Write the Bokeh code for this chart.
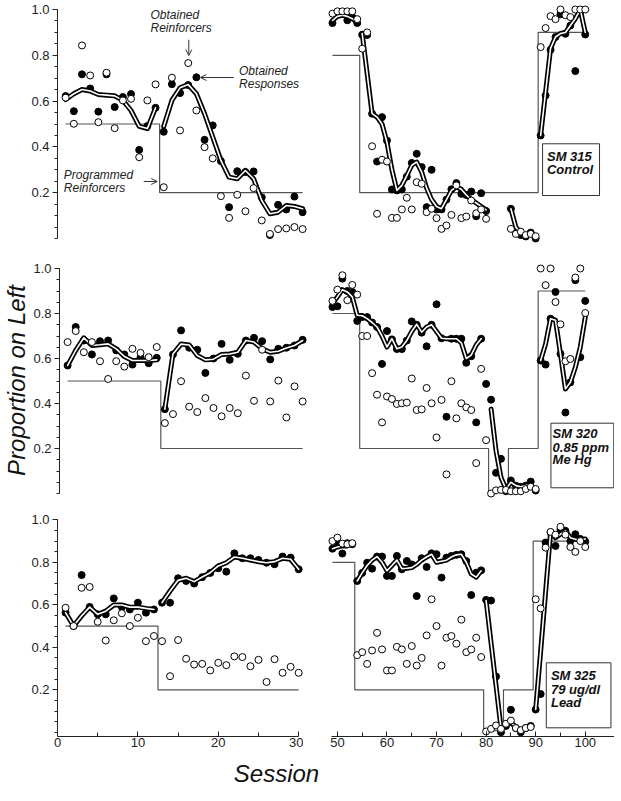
import math
from bokeh.plotting import figure
from bokeh.layouts import column, row
from bokeh.models import (FixedTicker, PrintfTickFormatter, Label, BoxAnnotation,
                          Arrow, OpenHead, Range1d, LinearAxis)
from bokeh.embed import file_html
from bokeh.resources import INLINE

FONT = "Liberation Sans"

# ---------------- data ----------------
# Top row: SM 315 Control
tl_sessions = list(range(1, 31))
tl_resp = [0.622, 0.556, 0.717, 0.655, 0.554, 0.717, 0.574, 0.618, 0.631, 0.387,
           0.491, 0.571, 0.466, 0.674, 0.635, 0.670, 0.704, 0.431, 0.494, 0.338,
           0.137, 0.294, 0.290, 0.293, 0.180, 0.015, 0.147, 0.127, 0.183, 0.115]
tl_reinf = [0.615, 0.501, 0.843, 0.712, 0.508, 0.724, 0.482, 0.603, 0.610, 0.355,
            0.603, 0.673, 0.224, 0.702, 0.472, 0.766, 0.559, 0.399, 0.350, 0.185,
            0.090, 0.191, 0.119, 0.220, 0.079, 0.020, 0.041, 0.044, 0.050, 0.041]
tl_smooth = [0.607, 0.632, 0.651, 0.644, 0.629, 0.626, 0.623, 0.603, 0.559, 0.490,
             0.480, 0.571, 0.489, 0.603, 0.658, 0.672, 0.632, 0.545, 0.443, 0.341,
             0.268, 0.261, 0.297, 0.261, 0.166, 0.108, 0.115, 0.144, 0.140, 0.130]
tl_prog = [0.5, 0.5, 0.5, 0.5, 0.5, 0.5, 0.5, 0.5, 0.5, 0.5, 0.5, 0.5,
           0.2, 0.2, 0.2, 0.2, 0.2, 0.2, 0.2, 0.2, 0.2, 0.2, 0.2, 0.2, 0.2, 0.2, 0.2, 0.2, 0.2, 0.2]
tl_segments = [(1, 12), (13, 30)]

tr_sessions = list(range(49, 81)) + list(range(85, 101))
tr_resp = [0.941, 0.979, 0.985, 0.953, 0.967, 0.941,
           0.890, 0.889, 0.545, 0.336, 0.530, 0.428, 0.214, 0.210, 0.214, 0.270,
           0.330, 0.370, 0.312, 0.137, 0.300, 0.127, 0.127, 0.170, 0.215, 0.242,
           0.195, 0.190, 0.205, 0.097, 0.198, 0.120,
           0.130, 0.030, 0.015, 0.009, 0.026, 0.000,
           0.450, 0.625, 0.824, 0.880, 0.979, 0.894, 0.930, 0.731, 0.990, 0.891]
tr_reinf = [0.982, 0.992, 0.992, 0.992, 0.992, 0.958,
            0.829, 0.900, 0.403, 0.108, 0.344, 0.336, 0.090, 0.090, 0.127, 0.178,
            0.127, 0.246, 0.239, 0.115, 0.130, 0.089, 0.042, 0.057, 0.103, 0.232,
            0.089, 0.096, 0.166, 0.110, 0.127, 0.086,
            0.042, 0.020, 0.030, 0.015, 0.020, 0.010,
            0.836, 0.919, 0.971, 0.958, 1.000, 0.975, 0.967, 1.000, 1.000, 1.000]
tr_smooth = [0.952, 0.970, 0.975, 0.970, 0.960, 0.945,
             0.895, 0.720, 0.545, 0.530, 0.500, 0.420, 0.300, 0.210, 0.232, 0.275,
             0.320, 0.334, 0.290, 0.220, 0.170, 0.140, 0.130, 0.170, 0.210, 0.225,
             0.215, 0.190, 0.170, 0.155, 0.140, 0.125,
             0.130, 0.050, 0.022, 0.015, 0.022, 0.005,
             0.450, 0.640, 0.830, 0.880, 0.895, 0.900, 0.930, 0.960, 1.000, 0.900]
tr_prog = [0.8, 0.8, 0.8, 0.8, 0.8, 0.8,
           0.2, 0.2, 0.2, 0.2, 0.2, 0.2, 0.2, 0.2, 0.2, 0.2, 0.2, 0.2, 0.2,
           0.2, 0.2, 0.2, 0.2, 0.2, 0.2, 0.2, 0.2, 0.2, 0.2, 0.2, 0.2, 0.2,
           0.2, 0.2, 0.2, 0.2, 0.2, 0.2,
           0.9, 0.9, 0.9, 0.9, 0.9, 0.9, 0.9, 0.9, 0.9, 0.9]
tr_segments = [(49, 54), (55, 80), (85, 90), (91, 100)]

# Middle row: SM 320 0.85 ppm Me Hg
ml_sessions = list(range(1, 31))
ml_resp = [0.569, 0.740, 0.680, 0.618, 0.677, 0.680, 0.636, 0.618, 0.573, 0.606,
           0.579, 0.603, 0.375, 0.618, 0.725, 0.648, 0.639, 0.536, 0.600, 0.665,
           0.594, 0.621, 0.680, 0.692, 0.677, 0.596, 0.643, 0.648, 0.658, 0.683]
ml_reinf = [0.673, 0.722, 0.628, 0.673, 0.588, 0.509, 0.588, 0.564, 0.643, 0.625,
            0.606, 0.651, 0.313, 0.353, 0.499, 0.386, 0.362, 0.424, 0.380, 0.343,
            0.380, 0.357, 0.524, 0.412, 0.639, 0.409, 0.502, 0.338, 0.476, 0.409]
ml_smooth = [0.569, 0.636, 0.692, 0.658, 0.661, 0.665, 0.643, 0.609, 0.591, 0.591,
             0.591, 0.594, 0.375, 0.620, 0.664, 0.660, 0.613, 0.594, 0.597, 0.618,
             0.620, 0.628, 0.680, 0.673, 0.643, 0.628, 0.632, 0.647, 0.658, 0.680]
ml_prog = tl_prog
ml_segments = [(1, 12), (13, 30)]

mr_sessions = list(range(49, 101))
mr_resp = [0.829, 0.832, 0.955, 0.900, 0.896, 0.767,
           0.784, 0.784, 0.760, 0.740, 0.576, 0.722, 0.685, 0.642, 0.642, 0.680,
           0.765, 0.750, 0.715, 0.654, 0.750, 0.841, 0.690, 0.341, 0.688, 0.688,
           0.688, 0.581, 0.610, 0.316, 0.688, 0.487,
           0.417, 0.092, 0.154, 0.010, 0.058, 0.035, 0.030, 0.035, 0.053, 0.013,
           0.591, 0.573, 0.777, 0.896, 0.621, 0.360, 0.494, 0.948, 0.606, 0.856]
mr_reinf = [0.856, 0.906, 0.970, 0.859, 0.927, 0.884,
            0.700, 0.700, 0.535, 0.439, 0.316, 0.431, 0.420, 0.398, 0.401, 0.404,
            0.511, 0.371, 0.374, 0.469, 0.401, 0.249, 0.416, 0.085, 0.499, 0.334,
            0.401, 0.383, 0.371, 0.135, 0.554, 0.237,
            0.000, 0.014, 0.016, 0.016, 0.010, 0.010, 0.010, 0.020, 0.030, 0.020,
            1.000, 0.926, 1.000, 0.851, 0.752, 0.588, 0.598, 0.960, 1.000, 0.802]
mr_smooth = [0.844, 0.874, 0.906, 0.896, 0.874, 0.792,
             0.790, 0.777, 0.760, 0.740, 0.700, 0.651, 0.688, 0.643, 0.651, 0.680,
             0.720, 0.752, 0.717, 0.740, 0.750, 0.720, 0.690, 0.688, 0.688, 0.688,
             0.670, 0.600, 0.615, 0.660, 0.688, None,
             0.375, 0.190, 0.071, 0.020, 0.050, 0.035, 0.030, 0.035, 0.040, 0.012,
             0.591, 0.665, 0.777, 0.770, 0.621, 0.465, 0.494, 0.561, 0.651, 0.784]
mr_prog = [0.8, 0.8, 0.8, 0.8, 0.8, 0.8,
           0.2, 0.2, 0.2, 0.2, 0.2, 0.2, 0.2, 0.2, 0.2, 0.2, 0.2, 0.2, 0.2,
           0.2, 0.2, 0.2, 0.2, 0.2, 0.2, 0.2, 0.2, 0.2, 0.2, 0.2, 0.2, 0.2,
           0.01, 0.01, 0.01, 0.01, 0.2, 0.2, 0.2, 0.2, 0.2, 0.2,
           0.9, 0.9, 0.9, 0.9, 0.9, 0.9, 0.9, 0.9, 0.9, 0.9]
mr_segments = [(49, 79), (81, 90), (91, 100)]

# Bottom row: SM 325 79 ug/dl Lead
bl_sessions = list(range(1, 31))
bl_resp = [0.563, 0.500, 0.740, 0.590, 0.555, 0.555, 0.630, 0.590, 0.578, 0.610,
           0.563, 0.578, 0.610, 0.610, 0.725, 0.712, 0.700, 0.730, 0.750, 0.772,
           0.756, 0.842, 0.819, 0.819, 0.811, 0.798, 0.791, 0.827, 0.822, 0.767]
bl_reinf = [0.586, 0.500, 0.680, 0.684, 0.520, 0.432, 0.527, 0.560, 0.500, 0.539,
            0.429, 0.453, 0.429, 0.264, 0.434, 0.346, 0.319, 0.322, 0.291, 0.327,
            0.316, 0.357, 0.354, 0.311, 0.341, 0.237, 0.344, 0.280, 0.308, 0.280]
bl_smooth = [0.563, 0.500, 0.548, 0.589, 0.555, 0.570, 0.599, 0.599, 0.589, 0.589,
             0.583, 0.578, 0.610, 0.665, 0.715, 0.725, 0.709, 0.731, 0.751, 0.783,
             0.798, 0.825, 0.819, 0.811, 0.803, 0.798, 0.803, 0.819, 0.814, 0.767]
bl_prog = tl_prog
bl_segments = [(1, 12), (13, 30)]

br_sessions = list(range(49, 101))
br_resp = [0.864, 0.885, 0.841, 0.890, 0.885,
           0.712, 0.750, 0.798, 0.770, 0.827, 0.827, 0.736, 0.736, 0.830, 0.767,
           0.806, 0.790, 0.641, 0.819, 0.778, 0.842, 0.838, 0.728, 0.822, 0.830,
           0.835, 0.838, 0.806, 0.646, 0.751, 0.762,
           0.623, 0.620, 0.263, 0.000, 0.030, 0.106, 0.020, 0.000, 0.020, 0.030,
           0.107, 0.180, 0.893, 0.940, 0.877, 0.955, 0.948, 0.900, 0.932, 0.910, 0.897]
br_reinf = [0.900, 0.916, 0.888, 0.885, 0.890,
            0.363, 0.377, 0.322, 0.385, 0.468, 0.390, 0.291, 0.291, 0.402, 0.390,
            0.322, 0.406, 0.314, 0.350, 0.456, 0.626, 0.500, 0.314, 0.445, 0.453,
            0.417, 0.530, 0.377, 0.390, 0.445, 0.354,
            0.004, 0.016, 0.032, 0.016, 0.040, 0.055, 0.020, 0.010, 0.020, 0.025,
            0.626, 0.583, 0.869, 0.943, 0.930, 0.967, 0.930, 0.872, 0.849, 0.900, 0.872]
br_smooth = [0.864, 0.872, 0.877, 0.877, 0.890,
             0.712, 0.750, 0.785, 0.810, 0.827, 0.800, 0.760, 0.785, 0.810, 0.770,
             0.772, 0.775, 0.790, 0.810, 0.825, 0.838, 0.800, 0.805, 0.810, 0.825,
             0.835, 0.838, 0.800, 0.745, 0.730, 0.760,
             0.620, 0.420, 0.220, 0.020, 0.040, 0.045, 0.025, 0.010, 0.020, 0.030,
             0.107, 0.380, 0.660, 0.940, 0.916, 0.932, 0.948, 0.916, 0.908, 0.905, 0.910]
br_prog = [0.8, 0.8, 0.8, 0.8, 0.8,
           0.2, 0.2, 0.2, 0.2, 0.2, 0.2, 0.2, 0.2, 0.2, 0.2, 0.2, 0.2, 0.2,
           0.2, 0.2, 0.2, 0.2, 0.2, 0.2, 0.2, 0.2, 0.2, 0.2, 0.2, 0.2, 0.2,
           0.008, 0.008, 0.008, 0.008, 0.2, 0.2, 0.2, 0.2, 0.2, 0.2,
           0.9, 0.9, 0.9, 0.9, 0.9, 0.9, 0.9, 0.9, 0.9, 0.9, 0.9]
br_segments = [(49, 53), (54, 79), (80, 89), (90, 100)]

y_major = [0.2, 0.4, 0.6, 0.8, 1.0]
y_minor = [0.0, 0.05, 0.1, 0.15, 0.2, 0.25, 0.3, 0.35, 0.4, 0.45, 0.5,
           0.55, 0.6, 0.65, 0.7, 0.75, 0.8, 0.85, 0.9, 0.95, 1.0]
x_left_major = [0, 10, 20, 30]
x_left_minor = [5, 15, 25]
x_right_major = [50, 60, 70, 80, 90, 100]
x_right_minor = [55, 65, 75, 85, 95]


# ---------------- helpers ----------------
def panel(width, height, xr, yr, mb_left, mb_top, mb_bottom):
    p = figure(width=width, height=height, x_range=Range1d(*xr), y_range=Range1d(*yr),
               output_backend="svg", toolbar_location=None,
               x_axis_location=None, y_axis_location=None,
               min_border_left=mb_left, min_border_right=0,
               min_border_top=mb_top, min_border_bottom=mb_bottom)
    p.outline_line_color = None
    p.grid.visible = False
    p.background_fill_color = "white"
    p.border_fill_color = "white"
    return p


def add_yaxis(p, title=None):
    ax = LinearAxis(ticker=FixedTicker(ticks=y_major, minor_ticks=y_minor),
                    formatter=PrintfTickFormatter(format="%.1f"))
    ax.bounds = (0, 1)
    ax.major_tick_out = 5
    ax.major_tick_in = 0
    ax.minor_tick_out = 3
    ax.minor_tick_in = 0
    ax.major_label_standoff = 3
    ax.major_label_text_font = FONT
    ax.major_label_text_font_size = "13px"
    ax.major_label_text_color = "#222222"
    ax.axis_line_color = "#222222"
    ax.major_tick_line_color = "#222222"
    ax.minor_tick_line_color = "#222222"
    if title:
        ax.axis_label = title
        ax.axis_label_standoff = 0
        ax.axis_label_text_font = FONT
        ax.axis_label_text_font_size = "24px"
        ax.axis_label_text_font_style = "italic"
        ax.axis_label_text_color = "#111111"
    p.add_layout(ax, "left")


def add_xaxis(p, major, minor, bounds):
    ax = LinearAxis(ticker=FixedTicker(ticks=major, minor_ticks=minor),
                    formatter=PrintfTickFormatter(format="%d"))
    ax.bounds = bounds
    ax.major_tick_out = 0
    ax.major_tick_in = 5
    ax.minor_tick_out = 0
    ax.minor_tick_in = 4
    ax.major_label_standoff = 1
    ax.major_label_text_font = FONT
    ax.major_label_text_font_size = "13px"
    ax.major_label_text_color = "#222222"
    ax.axis_line_color = "#222222"
    ax.major_tick_line_color = "#222222"
    ax.minor_tick_line_color = "#222222"
    p.add_layout(ax, "below")


def draw(p, sessions, resp, reinf, smooth, prog, segments):
    p.step(sessions, prog, mode="center", line_color="#555555", line_width=1.2)
    p.scatter(sessions, resp, size=7, marker="circle",
              fill_color="black", line_color="black", line_width=1)
    for a, b in segments:
        xs = [s for s, v in zip(sessions, smooth) if a <= s <= b and v is not None]
        ys = [v for s, v in zip(sessions, smooth) if a <= s <= b and v is not None]
        p.line(xs, ys, line_color="black", line_width=5, line_join="round", line_cap="round")
        p.line(xs, ys, line_color="white", line_width=1.6, line_join="round", line_cap="round")
    p.scatter(sessions, reinf, size=7, marker="circle",
              fill_color="white", line_color="black", line_width=1)


def id_box(p, left, right, top, bottom, lines, x, ys):
    p.add_layout(BoxAnnotation(left=left, right=right, top=top, bottom=bottom,
                               fill_color="white", fill_alpha=1.0,
                               line_color="#333333", line_width=1, line_alpha=1.0))
    for t, y in zip(lines, ys):
        p.add_layout(Label(x=x, y=y, text=t, text_font=FONT, text_font_size="13px",
                           text_font_style="bold italic", text_color="#111111",
                           text_align="left", text_baseline="middle"))


def note(p, x, y, t, size="12px"):
    p.add_layout(Label(x=x, y=y, text=t, text_font=FONT, text_font_size=size,
                       text_font_style="italic", text_color="#222222",
                       text_align="left", text_baseline="middle"))


def arrow(p, x0, y0, x1, y1):
    p.add_layout(Arrow(end=OpenHead(size=6, line_width=1, line_color="#333333"),
                       x_start=x0, y_start=y0, x_end=x1, y_end=y1,
                       line_width=1, line_color="#333333"))


LX = (0, 30.6)
RX = (47.8, 105.9)

# ---------------- top row ----------------
ytop = (-0.0218, 1.0306)
tl = panel(307, 262, LX, ytop, 57, 2, 19)
add_yaxis(tl)
draw(tl, tl_sessions, tl_resp, tl_reinf, tl_smooth, tl_prog, tl_segments)
note(tl, 11.38, 0.974, "Obtained")
note(tl, 11.38, 0.920, "Reinforcers")
arrow(tl, 16.07, 0.868, 16.07, 0.799)
note(tl, 22.22, 0.731, "Obtained")
note(tl, 22.22, 0.676, "Responses")
arrow(tl, 21.58, 0.703, 17.5, 0.703)
note(tl, 0.77, 0.278, "Programmed")
note(tl, 0.77, 0.221, "Reinforcers")
arrow(tl, 10.56, 0.249, 12.2, 0.249)

tr = panel(307, 262, RX, ytop, 19, 2, 19)
draw(tr, tr_sessions, tr_resp, tr_reinf, tr_smooth, tr_prog, tr_segments)
id_box(tr, 91.39, 102.88, 0.4136, 0.1878, ["SM 315", "Control"], 92.28, [0.358, 0.301])

# ---------------- middle row ----------------
ymid = (-0.0222, 1.0267)
ml = panel(307, 251, LX, ymid, 57, 0, 15)
add_yaxis(ml, "Proportion on Left")
draw(ml, ml_sessions, ml_resp, ml_reinf, ml_smooth, ml_prog, ml_segments)

mr = panel(307, 251, RX, ymid, 19, 0, 15)
draw(mr, mr_sessions, mr_resp, mr_reinf, mr_smooth, mr_prog, mr_segments)
id_box(mr, 93.08, 105.75, 0.3125, 0.0254, ["SM 320", "0.85 ppm", "Me Hg"], 93.41,
       [0.2667, 0.2058, 0.1498])

# ---------------- bottom row ----------------
ybot = (-0.0198, 1.0296)
bl = panel(303, 241, LX, ybot, 57, 0, 18)
add_yaxis(bl)
add_xaxis(bl, x_left_major, x_left_minor, (0, 30))
draw(bl, bl_sessions, bl_resp, bl_reinf, bl_smooth, bl_prog, bl_segments)

br = panel(311, 241, RX, ybot, 23, 0, 18)
add_xaxis(br, x_right_major, x_right_minor, (48.8, 105.9))
draw(br, br_sessions, br_resp, br_reinf, br_smooth, br_prog, br_segments)
id_box(br, 92.14, 105.18, 0.327, 0.0211, ["SM 325", "79 ug/dl", "Lead"], 93.08,
       [0.2673, 0.2014, 0.1416])

# ---------------- x title strip ----------------
strip = figure(width=614, height=46, x_range=Range1d(0, 614), y_range=Range1d(0, 46),
               output_backend="svg", toolbar_location=None,
               x_axis_location=None, y_axis_location=None,
               min_border_left=0, min_border_right=0, min_border_top=0, min_border_bottom=0)
strip.outline_line_color = None
strip.grid.visible = False
strip.add_layout(Label(x=276, y=27, text="Session", text_font=FONT, text_font_size="24px",
                       text_font_style="italic", text_color="#111111",
                       text_align="center", text_baseline="middle"))

layout = column(row(tl, tr, spacing=0), row(ml, mr, spacing=0), row(bl, br, spacing=0),
                strip, spacing=0)

open("out.html", "w").write(file_html(layout, INLINE))
